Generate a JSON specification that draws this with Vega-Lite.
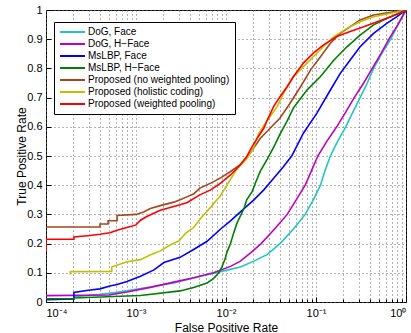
{
  "$schema": "https://vega.github.io/schema/vega-lite/v6.json",
  "width": 360,
  "height": 292,
  "autosize": {"type": "none"},
  "padding": {"left": 46, "top": 10, "right": 5, "bottom": 31},
  "background": "white",
  "config": {"view": {"stroke": "black", "strokeWidth": 1}, "font": "Liberation Sans"},
  "data": {"values": [
    {"s": "DoG, Face", "i": 0, "fpr": 0.0001, "tpr": 0.011},
    {"s": "DoG, Face", "i": 1, "fpr": 0.0002042, "tpr": 0.011},
    {"s": "DoG, Face", "i": 2, "fpr": 0.0002042, "tpr": 0.018},
    {"s": "DoG, Face", "i": 3, "fpr": 0.0003981, "tpr": 0.026},
    {"s": "DoG, Face", "i": 4, "fpr": 0.0006166, "tpr": 0.033},
    {"s": "DoG, Face", "i": 5, "fpr": 0.001122, "tpr": 0.046},
    {"s": "DoG, Face", "i": 6, "fpr": 0.00263, "tpr": 0.065},
    {"s": "DoG, Face", "i": 7, "fpr": 0.005129, "tpr": 0.087},
    {"s": "DoG, Face", "i": 8, "fpr": 0.00871, "tpr": 0.104},
    {"s": "DoG, Face", "i": 9, "fpr": 0.01445, "tpr": 0.12},
    {"s": "DoG, Face", "i": 10, "fpr": 0.02042, "tpr": 0.14},
    {"s": "DoG, Face", "i": 11, "fpr": 0.02884, "tpr": 0.163},
    {"s": "DoG, Face", "i": 12, "fpr": 0.03981, "tpr": 0.2},
    {"s": "DoG, Face", "i": 13, "fpr": 0.05623, "tpr": 0.25},
    {"s": "DoG, Face", "i": 14, "fpr": 0.07586, "tpr": 0.3},
    {"s": "DoG, Face", "i": 15, "fpr": 0.09333, "tpr": 0.35},
    {"s": "DoG, Face", "i": 16, "fpr": 0.1122, "tpr": 0.4},
    {"s": "DoG, Face", "i": 17, "fpr": 0.1259, "tpr": 0.45},
    {"s": "DoG, Face", "i": 18, "fpr": 0.1445, "tpr": 0.5},
    {"s": "DoG, Face", "i": 19, "fpr": 0.1738, "tpr": 0.55},
    {"s": "DoG, Face", "i": 20, "fpr": 0.2138, "tpr": 0.6},
    {"s": "DoG, Face", "i": 21, "fpr": 0.257, "tpr": 0.65},
    {"s": "DoG, Face", "i": 22, "fpr": 0.309, "tpr": 0.7},
    {"s": "DoG, Face", "i": 23, "fpr": 0.3715, "tpr": 0.75},
    {"s": "DoG, Face", "i": 24, "fpr": 0.4365, "tpr": 0.8},
    {"s": "DoG, Face", "i": 25, "fpr": 0.537, "tpr": 0.85},
    {"s": "DoG, Face", "i": 26, "fpr": 0.6761, "tpr": 0.9},
    {"s": "DoG, Face", "i": 27, "fpr": 0.8128, "tpr": 0.95},
    {"s": "DoG, Face", "i": 28, "fpr": 1, "tpr": 1},

    {"s": "DoG, H−Face", "i": 0, "fpr": 0.0001, "tpr": 0.022},
    {"s": "DoG, H−Face", "i": 1, "fpr": 0.0005012, "tpr": 0.024},
    {"s": "DoG, H−Face", "i": 2, "fpr": 0.0007943, "tpr": 0.034},
    {"s": "DoG, H−Face", "i": 3, "fpr": 0.001445, "tpr": 0.05},
    {"s": "DoG, H−Face", "i": 4, "fpr": 0.00263, "tpr": 0.068},
    {"s": "DoG, H−Face", "i": 5, "fpr": 0.004365, "tpr": 0.083},
    {"s": "DoG, H−Face", "i": 6, "fpr": 0.007244, "tpr": 0.1},
    {"s": "DoG, H−Face", "i": 7, "fpr": 0.01122, "tpr": 0.122},
    {"s": "DoG, H−Face", "i": 8, "fpr": 0.01445, "tpr": 0.14},
    {"s": "DoG, H−Face", "i": 9, "fpr": 0.01905, "tpr": 0.17},
    {"s": "DoG, H−Face", "i": 10, "fpr": 0.02455, "tpr": 0.2},
    {"s": "DoG, H−Face", "i": 11, "fpr": 0.03467, "tpr": 0.25},
    {"s": "DoG, H−Face", "i": 12, "fpr": 0.04786, "tpr": 0.3},
    {"s": "DoG, H−Face", "i": 13, "fpr": 0.06026, "tpr": 0.35},
    {"s": "DoG, H−Face", "i": 14, "fpr": 0.07586, "tpr": 0.4},
    {"s": "DoG, H−Face", "i": 15, "fpr": 0.08913, "tpr": 0.45},
    {"s": "DoG, H−Face", "i": 16, "fpr": 0.1047, "tpr": 0.5},
    {"s": "DoG, H−Face", "i": 17, "fpr": 0.1318, "tpr": 0.55},
    {"s": "DoG, H−Face", "i": 18, "fpr": 0.1698, "tpr": 0.6},
    {"s": "DoG, H−Face", "i": 19, "fpr": 0.2138, "tpr": 0.65},
    {"s": "DoG, H−Face", "i": 20, "fpr": 0.2661, "tpr": 0.7},
    {"s": "DoG, H−Face", "i": 21, "fpr": 0.3388, "tpr": 0.75},
    {"s": "DoG, H−Face", "i": 22, "fpr": 0.4217, "tpr": 0.8},
    {"s": "DoG, H−Face", "i": 23, "fpr": 0.5248, "tpr": 0.85},
    {"s": "DoG, H−Face", "i": 24, "fpr": 0.6457, "tpr": 0.9},
    {"s": "DoG, H−Face", "i": 25, "fpr": 0.8128, "tpr": 0.95},
    {"s": "DoG, H−Face", "i": 26, "fpr": 1, "tpr": 1},

    {"s": "MsLBP, Face", "i": 0, "fpr": 0.0001, "tpr": 0.008},
    {"s": "MsLBP, Face", "i": 1, "fpr": 0.0002042, "tpr": 0.01},
    {"s": "MsLBP, Face", "i": 2, "fpr": 0.0002042, "tpr": 0.033},
    {"s": "MsLBP, Face", "i": 3, "fpr": 0.0002951, "tpr": 0.04},
    {"s": "MsLBP, Face", "i": 4, "fpr": 0.0003981, "tpr": 0.045},
    {"s": "MsLBP, Face", "i": 5, "fpr": 0.0005129, "tpr": 0.055},
    {"s": "MsLBP, Face", "i": 6, "fpr": 0.0006166, "tpr": 0.06},
    {"s": "MsLBP, Face", "i": 7, "fpr": 0.0007943, "tpr": 0.07},
    {"s": "MsLBP, Face", "i": 8, "fpr": 0.001122, "tpr": 0.088},
    {"s": "MsLBP, Face", "i": 9, "fpr": 0.001585, "tpr": 0.11},
    {"s": "MsLBP, Face", "i": 10, "fpr": 0.002042, "tpr": 0.135},
    {"s": "MsLBP, Face", "i": 11, "fpr": 0.00309, "tpr": 0.153},
    {"s": "MsLBP, Face", "i": 12, "fpr": 0.004365, "tpr": 0.18},
    {"s": "MsLBP, Face", "i": 13, "fpr": 0.006166, "tpr": 0.208},
    {"s": "MsLBP, Face", "i": 14, "fpr": 0.00871, "tpr": 0.25},
    {"s": "MsLBP, Face", "i": 15, "fpr": 0.01122, "tpr": 0.278},
    {"s": "MsLBP, Face", "i": 16, "fpr": 0.01585, "tpr": 0.32},
    {"s": "MsLBP, Face", "i": 17, "fpr": 0.02042, "tpr": 0.35},
    {"s": "MsLBP, Face", "i": 18, "fpr": 0.0263, "tpr": 0.384},
    {"s": "MsLBP, Face", "i": 19, "fpr": 0.03388, "tpr": 0.424},
    {"s": "MsLBP, Face", "i": 20, "fpr": 0.04365, "tpr": 0.464},
    {"s": "MsLBP, Face", "i": 21, "fpr": 0.0537, "tpr": 0.5},
    {"s": "MsLBP, Face", "i": 22, "fpr": 0.07244, "tpr": 0.578},
    {"s": "MsLBP, Face", "i": 23, "fpr": 0.1023, "tpr": 0.647},
    {"s": "MsLBP, Face", "i": 24, "fpr": 0.1445, "tpr": 0.726},
    {"s": "MsLBP, Face", "i": 25, "fpr": 0.1862, "tpr": 0.783},
    {"s": "MsLBP, Face", "i": 26, "fpr": 0.2399, "tpr": 0.829},
    {"s": "MsLBP, Face", "i": 27, "fpr": 0.309, "tpr": 0.874},
    {"s": "MsLBP, Face", "i": 28, "fpr": 0.4365, "tpr": 0.92},
    {"s": "MsLBP, Face", "i": 29, "fpr": 0.6166, "tpr": 0.955},
    {"s": "MsLBP, Face", "i": 30, "fpr": 0.7943, "tpr": 0.977},
    {"s": "MsLBP, Face", "i": 31, "fpr": 1, "tpr": 1},

    {"s": "MsLBP, H−Face", "i": 0, "fpr": 0.0001, "tpr": 0.011},
    {"s": "MsLBP, H−Face", "i": 1, "fpr": 0.0002042, "tpr": 0.011},
    {"s": "MsLBP, H−Face", "i": 2, "fpr": 0.0002042, "tpr": 0.014},
    {"s": "MsLBP, H−Face", "i": 3, "fpr": 0.001122, "tpr": 0.022},
    {"s": "MsLBP, H−Face", "i": 4, "fpr": 0.00309, "tpr": 0.038},
    {"s": "MsLBP, H−Face", "i": 5, "fpr": 0.004365, "tpr": 0.05},
    {"s": "MsLBP, H−Face", "i": 6, "fpr": 0.006166, "tpr": 0.065},
    {"s": "MsLBP, H−Face", "i": 7, "fpr": 0.007244, "tpr": 0.08},
    {"s": "MsLBP, H−Face", "i": 8, "fpr": 0.008318, "tpr": 0.1},
    {"s": "MsLBP, H−Face", "i": 9, "fpr": 0.009016, "tpr": 0.12},
    {"s": "MsLBP, H−Face", "i": 10, "fpr": 0.009817, "tpr": 0.15},
    {"s": "MsLBP, H−Face", "i": 11, "fpr": 0.01023, "tpr": 0.17},
    {"s": "MsLBP, H−Face", "i": 12, "fpr": 0.01122, "tpr": 0.2},
    {"s": "MsLBP, H−Face", "i": 13, "fpr": 0.01213, "tpr": 0.235},
    {"s": "MsLBP, H−Face", "i": 14, "fpr": 0.01324, "tpr": 0.27},
    {"s": "MsLBP, H−Face", "i": 15, "fpr": 0.01585, "tpr": 0.32},
    {"s": "MsLBP, H−Face", "i": 16, "fpr": 0.01698, "tpr": 0.35},
    {"s": "MsLBP, H−Face", "i": 17, "fpr": 0.0195, "tpr": 0.378},
    {"s": "MsLBP, H−Face", "i": 18, "fpr": 0.02138, "tpr": 0.41},
    {"s": "MsLBP, H−Face", "i": 19, "fpr": 0.02399, "tpr": 0.447},
    {"s": "MsLBP, H−Face", "i": 20, "fpr": 0.02884, "tpr": 0.49},
    {"s": "MsLBP, H−Face", "i": 21, "fpr": 0.03388, "tpr": 0.53},
    {"s": "MsLBP, H−Face", "i": 22, "fpr": 0.03981, "tpr": 0.575},
    {"s": "MsLBP, H−Face", "i": 23, "fpr": 0.04786, "tpr": 0.62},
    {"s": "MsLBP, H−Face", "i": 24, "fpr": 0.05623, "tpr": 0.665},
    {"s": "MsLBP, H−Face", "i": 25, "fpr": 0.07943, "tpr": 0.726},
    {"s": "MsLBP, H−Face", "i": 26, "fpr": 0.1122, "tpr": 0.772},
    {"s": "MsLBP, H−Face", "i": 27, "fpr": 0.1585, "tpr": 0.829},
    {"s": "MsLBP, H−Face", "i": 28, "fpr": 0.2208, "tpr": 0.874},
    {"s": "MsLBP, H−Face", "i": 29, "fpr": 0.309, "tpr": 0.914},
    {"s": "MsLBP, H−Face", "i": 30, "fpr": 0.4365, "tpr": 0.949},
    {"s": "MsLBP, H−Face", "i": 31, "fpr": 0.6166, "tpr": 0.972},
    {"s": "MsLBP, H−Face", "i": 32, "fpr": 0.865, "tpr": 0.99},
    {"s": "MsLBP, H−Face", "i": 33, "fpr": 1, "tpr": 1},

    {"s": "Proposed (no weighted pooling)", "i": 0, "fpr": 0.0001, "tpr": 0.257},
    {"s": "Proposed (no weighted pooling)", "i": 1, "fpr": 0.0003981, "tpr": 0.257},
    {"s": "Proposed (no weighted pooling)", "i": 2, "fpr": 0.0003981, "tpr": 0.267},
    {"s": "Proposed (no weighted pooling)", "i": 3, "fpr": 0.0004898, "tpr": 0.267},
    {"s": "Proposed (no weighted pooling)", "i": 4, "fpr": 0.0004898, "tpr": 0.278},
    {"s": "Proposed (no weighted pooling)", "i": 5, "fpr": 0.0006166, "tpr": 0.278},
    {"s": "Proposed (no weighted pooling)", "i": 6, "fpr": 0.0006166, "tpr": 0.296},
    {"s": "Proposed (no weighted pooling)", "i": 7, "fpr": 0.001, "tpr": 0.3},
    {"s": "Proposed (no weighted pooling)", "i": 8, "fpr": 0.001216, "tpr": 0.308},
    {"s": "Proposed (no weighted pooling)", "i": 9, "fpr": 0.001445, "tpr": 0.32},
    {"s": "Proposed (no weighted pooling)", "i": 10, "fpr": 0.001862, "tpr": 0.33},
    {"s": "Proposed (no weighted pooling)", "i": 11, "fpr": 0.00263, "tpr": 0.342},
    {"s": "Proposed (no weighted pooling)", "i": 12, "fpr": 0.00309, "tpr": 0.35},
    {"s": "Proposed (no weighted pooling)", "i": 13, "fpr": 0.003673, "tpr": 0.36},
    {"s": "Proposed (no weighted pooling)", "i": 14, "fpr": 0.004365, "tpr": 0.37},
    {"s": "Proposed (no weighted pooling)", "i": 15, "fpr": 0.005129, "tpr": 0.39},
    {"s": "Proposed (no weighted pooling)", "i": 16, "fpr": 0.006761, "tpr": 0.407},
    {"s": "Proposed (no weighted pooling)", "i": 17, "fpr": 0.00871, "tpr": 0.425},
    {"s": "Proposed (no weighted pooling)", "i": 18, "fpr": 0.01122, "tpr": 0.447},
    {"s": "Proposed (no weighted pooling)", "i": 19, "fpr": 0.01445, "tpr": 0.47},
    {"s": "Proposed (no weighted pooling)", "i": 20, "fpr": 0.01862, "tpr": 0.51},
    {"s": "Proposed (no weighted pooling)", "i": 21, "fpr": 0.02399, "tpr": 0.56},
    {"s": "Proposed (no weighted pooling)", "i": 22, "fpr": 0.0309, "tpr": 0.595},
    {"s": "Proposed (no weighted pooling)", "i": 23, "fpr": 0.03981, "tpr": 0.63},
    {"s": "Proposed (no weighted pooling)", "i": 24, "fpr": 0.05129, "tpr": 0.68},
    {"s": "Proposed (no weighted pooling)", "i": 25, "fpr": 0.06761, "tpr": 0.738},
    {"s": "Proposed (no weighted pooling)", "i": 26, "fpr": 0.0871, "tpr": 0.795},
    {"s": "Proposed (no weighted pooling)", "i": 27, "fpr": 0.1122, "tpr": 0.84},
    {"s": "Proposed (no weighted pooling)", "i": 28, "fpr": 0.1445, "tpr": 0.886},
    {"s": "Proposed (no weighted pooling)", "i": 29, "fpr": 0.1862, "tpr": 0.92},
    {"s": "Proposed (no weighted pooling)", "i": 30, "fpr": 0.2399, "tpr": 0.943},
    {"s": "Proposed (no weighted pooling)", "i": 31, "fpr": 0.309, "tpr": 0.966},
    {"s": "Proposed (no weighted pooling)", "i": 32, "fpr": 0.4365, "tpr": 0.983},
    {"s": "Proposed (no weighted pooling)", "i": 33, "fpr": 0.6761, "tpr": 0.992},
    {"s": "Proposed (no weighted pooling)", "i": 34, "fpr": 1, "tpr": 1},

    {"s": "Proposed (holistic coding)", "i": 0, "fpr": 0.0001862, "tpr": 0.093},
    {"s": "Proposed (holistic coding)", "i": 1, "fpr": 0.0001862, "tpr": 0.104},
    {"s": "Proposed (holistic coding)", "i": 2, "fpr": 0.000537, "tpr": 0.105},
    {"s": "Proposed (holistic coding)", "i": 3, "fpr": 0.000537, "tpr": 0.12},
    {"s": "Proposed (holistic coding)", "i": 4, "fpr": 0.0007943, "tpr": 0.138},
    {"s": "Proposed (holistic coding)", "i": 5, "fpr": 0.001122, "tpr": 0.145},
    {"s": "Proposed (holistic coding)", "i": 6, "fpr": 0.001413, "tpr": 0.16},
    {"s": "Proposed (holistic coding)", "i": 7, "fpr": 0.001862, "tpr": 0.175},
    {"s": "Proposed (holistic coding)", "i": 8, "fpr": 0.002399, "tpr": 0.195},
    {"s": "Proposed (holistic coding)", "i": 9, "fpr": 0.00302, "tpr": 0.21},
    {"s": "Proposed (holistic coding)", "i": 10, "fpr": 0.003548, "tpr": 0.235},
    {"s": "Proposed (holistic coding)", "i": 11, "fpr": 0.004365, "tpr": 0.255},
    {"s": "Proposed (holistic coding)", "i": 12, "fpr": 0.00537, "tpr": 0.29},
    {"s": "Proposed (holistic coding)", "i": 13, "fpr": 0.006761, "tpr": 0.325},
    {"s": "Proposed (holistic coding)", "i": 14, "fpr": 0.00871, "tpr": 0.365},
    {"s": "Proposed (holistic coding)", "i": 15, "fpr": 0.01122, "tpr": 0.42},
    {"s": "Proposed (holistic coding)", "i": 16, "fpr": 0.01318, "tpr": 0.455},
    {"s": "Proposed (holistic coding)", "i": 17, "fpr": 0.01698, "tpr": 0.49},
    {"s": "Proposed (holistic coding)", "i": 18, "fpr": 0.02042, "tpr": 0.53},
    {"s": "Proposed (holistic coding)", "i": 19, "fpr": 0.02291, "tpr": 0.575},
    {"s": "Proposed (holistic coding)", "i": 20, "fpr": 0.0263, "tpr": 0.605},
    {"s": "Proposed (holistic coding)", "i": 21, "fpr": 0.0309, "tpr": 0.635},
    {"s": "Proposed (holistic coding)", "i": 22, "fpr": 0.03715, "tpr": 0.67},
    {"s": "Proposed (holistic coding)", "i": 23, "fpr": 0.04365, "tpr": 0.715},
    {"s": "Proposed (holistic coding)", "i": 24, "fpr": 0.05623, "tpr": 0.772},
    {"s": "Proposed (holistic coding)", "i": 25, "fpr": 0.07244, "tpr": 0.806},
    {"s": "Proposed (holistic coding)", "i": 26, "fpr": 0.09333, "tpr": 0.84},
    {"s": "Proposed (holistic coding)", "i": 27, "fpr": 0.1202, "tpr": 0.874},
    {"s": "Proposed (holistic coding)", "i": 28, "fpr": 0.1585, "tpr": 0.909},
    {"s": "Proposed (holistic coding)", "i": 29, "fpr": 0.2208, "tpr": 0.937},
    {"s": "Proposed (holistic coding)", "i": 30, "fpr": 0.309, "tpr": 0.96},
    {"s": "Proposed (holistic coding)", "i": 31, "fpr": 0.4365, "tpr": 0.977},
    {"s": "Proposed (holistic coding)", "i": 32, "fpr": 0.6761, "tpr": 0.989},
    {"s": "Proposed (holistic coding)", "i": 33, "fpr": 1, "tpr": 1},

    {"s": "Proposed (weighted pooling)", "i": 0, "fpr": 0.0001, "tpr": 0.173},
    {"s": "Proposed (weighted pooling)", "i": 1, "fpr": 0.0001, "tpr": 0.215},
    {"s": "Proposed (weighted pooling)", "i": 2, "fpr": 0.0002042, "tpr": 0.215},
    {"s": "Proposed (weighted pooling)", "i": 3, "fpr": 0.0002042, "tpr": 0.223},
    {"s": "Proposed (weighted pooling)", "i": 4, "fpr": 0.000309, "tpr": 0.228},
    {"s": "Proposed (weighted pooling)", "i": 5, "fpr": 0.0003981, "tpr": 0.232},
    {"s": "Proposed (weighted pooling)", "i": 6, "fpr": 0.0005129, "tpr": 0.237},
    {"s": "Proposed (weighted pooling)", "i": 7, "fpr": 0.0006166, "tpr": 0.246},
    {"s": "Proposed (weighted pooling)", "i": 8, "fpr": 0.0007943, "tpr": 0.255},
    {"s": "Proposed (weighted pooling)", "i": 9, "fpr": 0.001, "tpr": 0.264},
    {"s": "Proposed (weighted pooling)", "i": 10, "fpr": 0.001122, "tpr": 0.28},
    {"s": "Proposed (weighted pooling)", "i": 11, "fpr": 0.001318, "tpr": 0.293},
    {"s": "Proposed (weighted pooling)", "i": 12, "fpr": 0.001862, "tpr": 0.314},
    {"s": "Proposed (weighted pooling)", "i": 13, "fpr": 0.00263, "tpr": 0.327},
    {"s": "Proposed (weighted pooling)", "i": 14, "fpr": 0.00309, "tpr": 0.333},
    {"s": "Proposed (weighted pooling)", "i": 15, "fpr": 0.003715, "tpr": 0.341},
    {"s": "Proposed (weighted pooling)", "i": 16, "fpr": 0.005129, "tpr": 0.367},
    {"s": "Proposed (weighted pooling)", "i": 17, "fpr": 0.006761, "tpr": 0.384},
    {"s": "Proposed (weighted pooling)", "i": 18, "fpr": 0.00871, "tpr": 0.407},
    {"s": "Proposed (weighted pooling)", "i": 19, "fpr": 0.01122, "tpr": 0.435},
    {"s": "Proposed (weighted pooling)", "i": 20, "fpr": 0.01445, "tpr": 0.47},
    {"s": "Proposed (weighted pooling)", "i": 21, "fpr": 0.01698, "tpr": 0.498},
    {"s": "Proposed (weighted pooling)", "i": 22, "fpr": 0.0195, "tpr": 0.532},
    {"s": "Proposed (weighted pooling)", "i": 23, "fpr": 0.02291, "tpr": 0.567},
    {"s": "Proposed (weighted pooling)", "i": 24, "fpr": 0.0263, "tpr": 0.595},
    {"s": "Proposed (weighted pooling)", "i": 25, "fpr": 0.02884, "tpr": 0.624},
    {"s": "Proposed (weighted pooling)", "i": 26, "fpr": 0.03388, "tpr": 0.67},
    {"s": "Proposed (weighted pooling)", "i": 27, "fpr": 0.03981, "tpr": 0.703},
    {"s": "Proposed (weighted pooling)", "i": 28, "fpr": 0.04786, "tpr": 0.738},
    {"s": "Proposed (weighted pooling)", "i": 29, "fpr": 0.05623, "tpr": 0.772},
    {"s": "Proposed (weighted pooling)", "i": 30, "fpr": 0.07244, "tpr": 0.818},
    {"s": "Proposed (weighted pooling)", "i": 31, "fpr": 0.09333, "tpr": 0.852},
    {"s": "Proposed (weighted pooling)", "i": 32, "fpr": 0.1202, "tpr": 0.88},
    {"s": "Proposed (weighted pooling)", "i": 33, "fpr": 0.1698, "tpr": 0.909},
    {"s": "Proposed (weighted pooling)", "i": 34, "fpr": 0.2399, "tpr": 0.926},
    {"s": "Proposed (weighted pooling)", "i": 35, "fpr": 0.3388, "tpr": 0.943},
    {"s": "Proposed (weighted pooling)", "i": 36, "fpr": 0.4786, "tpr": 0.96},
    {"s": "Proposed (weighted pooling)", "i": 37, "fpr": 0.6761, "tpr": 0.977},
    {"s": "Proposed (weighted pooling)", "i": 38, "fpr": 1, "tpr": 1}
  ]},
  "mark": {"type": "line", "strokeWidth": 1.6, "clip": true},
  "encoding": {
    "x": {
      "field": "fpr", "type": "quantitative",
      "scale": {"type": "log", "domain": [0.0001, 1], "nice": false},
      "axis": {
        "title": "False Positive Rate",
        "values": [0.0001,0.0002,0.0003,0.0004,0.0005,0.0006,0.0007,0.0008,0.0009,0.001,0.002,0.003,0.004,0.005,0.006,0.007,0.008,0.009,0.01,0.02,0.03,0.04,0.05,0.06,0.07,0.08,0.09,0.1,0.2,0.3,0.4,0.5,0.6,0.7,0.8,0.9,1],
        "labelExpr": "datum.value == 0.0001 ? '10⁻⁴' : datum.value == 0.001 ? '10⁻³' : datum.value == 0.01 ? '10⁻²' : datum.value == 0.1 ? '10⁻¹' : datum.value == 1 ? '10⁰' : ''",
        "grid": true, "gridDash": [1, 3], "gridColor": "#666", "gridWidth": 1,
        "ticks": true, "tickColor": "black", "tickWidth": 1,
        "tickSize": {"condition": {"test": "datum.value == 0.0001 || datum.value == 0.001 || datum.value == 0.01 || datum.value == 0.1 || datum.value == 1", "value": -5}, "value": -3},
        "domain": false,
        "labelFontSize": 11, "labelColor": "black", "labelPadding": 10, "labelOverlap": false, "labelBound": false,
        "titleFontSize": 12, "titleFontWeight": "normal", "titleColor": "black", "titlePadding": 2
      }
    },
    "y": {
      "field": "tpr", "type": "quantitative",
      "scale": {"domain": [0, 1], "nice": false},
      "axis": {
        "title": "True Positive Rate",
        "values": [0,0.1,0.2,0.3,0.4,0.5,0.6,0.7,0.8,0.9,1],
        "labelExpr": "datum.value == 0 ? '0' : datum.value == 1 ? '1' : format(datum.value, '.1f')",
        "grid": true, "gridDash": [1, 3], "gridColor": "#666", "gridWidth": 1,
        "ticks": true, "tickColor": "black", "tickWidth": 1, "tickSize": -5,
        "domain": false,
        "labelFontSize": 11, "labelColor": "black", "labelPadding": 9,
        "titleFontSize": 12, "titleFontWeight": "normal", "titleColor": "black", "titlePadding": -2
      }
    },
    "color": {
      "field": "s", "type": "nominal",
      "scale": {
        "domain": ["DoG, Face", "DoG, H−Face", "MsLBP, Face", "MsLBP, H−Face", "Proposed (no weighted pooling)", "Proposed (holistic coding)", "Proposed (weighted pooling)"],
        "range": ["#22c4c4", "#c000c0", "#0000ff", "#008000", "#a5461c", "#c0c000", "#ff0000"]
      },
      "legend": {
        "title": null, "orient": "none", "legendX": 8, "legendY": 12, "direction": "vertical",
        "strokeColor": "black", "fillColor": "white", "padding": 5,
        "symbolType": "M-1,0H5.25", "symbolSize": 64, "symbolStrokeWidth": 2,
        "labelOffset": 19, "labelFontSize": 10, "labelColor": "black", "rowPadding": 2, "labelLimit": 300
      }
    },
    "order": {"field": "i", "type": "quantitative"}
  }
}
